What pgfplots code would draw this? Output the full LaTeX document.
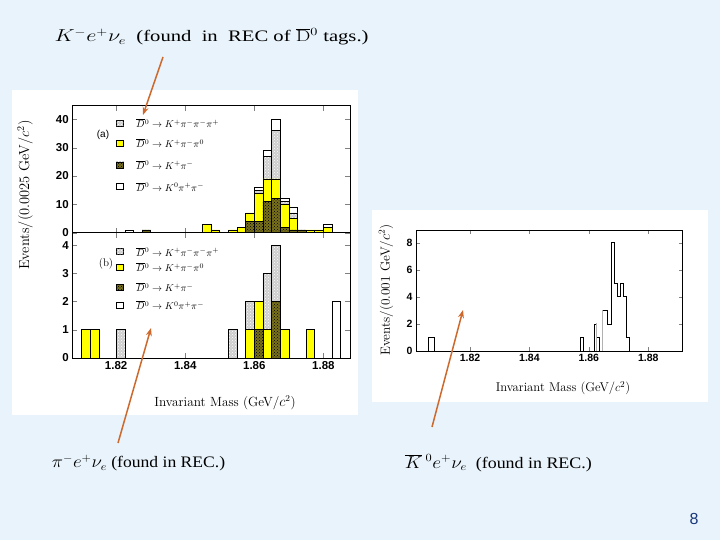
\documentclass[border=0pt]{standalone}
\usepackage{fontspec}
\setsansfont{Liberation Sans}
\newfontfamily\timesfont{Liberation Serif}
\usepackage{pgfplots}
\pgfplotsset{compat=1.18}
\usepackage{pgfplotstable}
\usetikzlibrary{patterns,arrows.meta}
\definecolor{slidebg}{RGB}{232,243,251}
\definecolor{arroworange}{RGB}{205,105,45}
\definecolor{histyellow}{RGB}{255,255,0}
\definecolor{darkolive}{RGB}{120,112,28}
\definecolor{lightgr}{RGB}{205,205,205}
\definecolor{pagenum}{RGB}{25,55,120}

% panel (a): K- e+ nu found in REC of D0bar tags
\pgfplotstableread{
x dark yellow grey white
1.82375 0 0 0 1
1.82875 1 0 0 0
1.84625 0 3 0 0
1.84875 0 1 0 0
1.85375 0 1 0 0
1.85625 0 2 0 0
1.85875 4 3 0 0
1.86125 4 10 1 1
1.86375 11 8 8 2
1.86625 12 7 17 4
1.86875 2 8 1 1
1.87125 1 4 2 2
1.87375 1 0 0 0
1.87625 0 1 0 0
1.87875 0 1 0 0
1.88125 0 2 0 1
}\tabA

% panel (b): pi- e+ nu
\pgfplotstableread{
x dark yellow grey white
1.81125 0 1 0 0
1.81375 0 1 0 0
1.82125 0 0 1 0
1.85375 0 0 1 0
1.85875 0 1 1 0
1.86125 1 1 0 0
1.86375 0 1 2 0
1.86625 2 0 2 0
1.86875 0 1 0 0
1.87625 0 1 0 0
1.88375 0 0 0 2
}\tabB

\tikzset{
  darkst/.style={fill=darkolive, draw=black, line width=0.6pt, postaction={pattern=crosshatch dots, pattern color=black}},
  yelst/.style={fill=histyellow, draw=black, line width=0.6pt},
  greyst/.style={fill=lightgr, draw=black, line width=0.6pt, postaction={pattern=crosshatch dots, pattern color=white}},
  whitest/.style={fill=white, draw=black, line width=0.6pt},
}
\pgfplotsset{
  histax/.style={
    scale only axis, width=277.7pt,
    xmin=1.8073, xmax=1.8877,
    xtick={1.82,1.84,1.86,1.88},
    tick align=inside, xtick pos=both, ytick pos=both,
    major tick length=5pt,
    axis line style={line width=0.8pt},
    ticklabel style={font=\sffamily\bfseries\fontsize{11.5}{12}\selectfont},
    ybar stacked, bar width=0.0025,
  },
}

\newcommand{\legsym}[3]{\draw[#1, line width=0.4pt] (#2-3.5,#3-3) rectangle (#2+3.5,#3+3);}

\begin{document}
\begin{tikzpicture}
\useasboundingbox (0pt,0pt) rectangle (720pt,540pt);
\begin{scope}[x=1pt,y=1pt]
\fill[slidebg] (0,0) rectangle (720,540);
\fill[white] (12,125) rectangle (358,450);
\fill[white] (372,138) rectangle (708,330);
\end{scope}

% ---- panel (a)
\begin{axis}[histax, at={(72.3pt,307.3pt)}, anchor=south west, height=127pt,
  ymin=0, ymax=44.8, ytick={0,10,20,30,40}, yticklabels={0,10,20,30,40},
  xticklabels={}]
\addplot[darkst] table[x=x,y=dark]{\tabA};
\addplot[yelst] table[x=x,y=yellow]{\tabA};
\addplot[greyst] table[x=x,y=grey]{\tabA};
\addplot[whitest] table[x=x,y=white]{\tabA};
\end{axis}

% ---- panel (b)
\begin{axis}[histax, at={(72.3pt,182pt)}, anchor=south west, height=125.3pt,
  ymin=0, ymax=4.44, ytick={0,1,2,3,4}, yticklabels={0,1,2,3,4},
  xticklabels={1.82,1.84,1.86,1.88}]
\addplot[darkst] table[x=x,y=dark]{\tabB};
\addplot[yelst] table[x=x,y=yellow]{\tabB};
\addplot[greyst] table[x=x,y=grey]{\tabB};
\addplot[whitest] table[x=x,y=white]{\tabB};
\end{axis}

% ---- right panel: K0bar e+ nu
\begin{axis}[scale only axis, at={(416pt,189pt)}, anchor=south west, width=266.7pt, height=121pt,
  xmin=1.8018, xmax=1.8916, ymin=0, ymax=8.94,
  xtick={1.82,1.84,1.86,1.88}, xticklabels={1.82,1.84,1.86,1.88},
  ytick={0,2,4,6,8}, yticklabels={0,2,4,6,8},
  tick align=inside, xtick pos=both, ytick pos=both, major tick length=4pt,
  axis line style={line width=0.8pt},
  ticklabel style={font=\sffamily\bfseries\fontsize{10.5}{12}\selectfont}]
\addplot[const plot, black, line width=0.9pt] coordinates {(1.8059,0)(1.8059,1)(1.8080,0)};
\addplot[const plot, black, line width=0.8pt] coordinates {(1.8571,0)(1.8571,1)(1.8580,0)};
\addplot[const plot, black, line width=0.8pt] coordinates {(1.8619,0)(1.8619,2)(1.8627,1)(1.8635,0)};
\addplot[const plot, gray!60, line width=1pt] coordinates {(1.8625,0)(1.8625,2)(1.8627,2)};
\addplot[const plot, gray!60, line width=1pt] coordinates {(1.8645,0)(1.8645,3)(1.8647,3)};
\addplot[const plot, black, line width=0.8pt] coordinates {(1.8647,3)(1.8664,2)(1.8677,8)(1.8687,5)(1.8697,4)(1.8706,5)(1.8715,4)(1.8725,1)(1.8737,0)};
\draw[line width=2pt] (rel axis cs:1,0) -- (rel axis cs:1,1);
\end{axis}

\begin{scope}[x=1pt,y=1pt]
% legends (a)
\node[font=\sffamily\fontsize{10}{12}\selectfont] at (103,405) {(a)};
\legsym{greyst}{120}{416.7}
\legsym{yelst}{120}{396.7}
\legsym{darkst}{120}{375}
\legsym{whitest}{120}{353.3}
\begin{scope}[every node/.style={anchor=west, font=\fontsize{10}{11}\selectfont, inner sep=0pt}]
\node at (136,416.7) {$\overline{D}{}^0\rightarrow K^+\pi^-\pi^-\pi^+$};
\node at (136,396.7) {$\overline{D}{}^0\rightarrow K^+\pi^-\pi^0$};
\node at (136,375) {$\overline{D}{}^0\rightarrow K^+\pi^-$};
\node at (136,353.3) {$\overline{D}{}^0\rightarrow K^0\pi^+\pi^-$};
\end{scope}
% legends (b)
\node[font=\fontsize{11}{12}\selectfont] at (106,276) {(b)};
\legsym{greyst}{120}{288.3}
\legsym{yelst}{120}{272.7}
\legsym{darkst}{120}{252.7}
\legsym{whitest}{120}{234.7}
\begin{scope}[every node/.style={anchor=west, font=\fontsize{10}{11}\selectfont, inner sep=0pt}]
\node at (136,288.3) {$\overline{D}{}^0\rightarrow K^+\pi^-\pi^-\pi^+$};
\node at (136,272.7) {$\overline{D}{}^0\rightarrow K^+\pi^-\pi^0$};
\node at (136,252.7) {$\overline{D}{}^0\rightarrow K^+\pi^-$};
\node at (136,234.7) {$\overline{D}{}^0\rightarrow K^0\pi^+\pi^-$};
\end{scope}

\node[rotate=90, font=\fontsize{14.5}{16}\selectfont] at (25,345) {Events/(0.0025 GeV/$c^2$)};
\node[font=\fontsize{13.3}{15}\selectfont] at (225,137) {Invariant Mass (GeV/$c^2$)};
\node[rotate=90, font=\fontsize{13.3}{15}\selectfont] at (386,250) {Events/(0.001 GeV/$c^2$)};
\node[font=\fontsize{12.7}{14}\selectfont] at (563,152) {Invariant Mass (GeV/$c^2$)};

% ---- slide texts
\node[anchor=west, xscale=1.29, font=\timesfont\fontsize{16}{18}\selectfont] at (50,503)
  {$K^-e^+\nu_e$~~(found~ in~ REC of $\overline{\mathrm{D}}{}^0$ tags.)};
\node[anchor=west, xscale=1.1, font=\timesfont\fontsize{16}{18}\selectfont] at (48,77)
  {$\pi^-e^+\nu_e$ (found in REC.)};
\node[anchor=west, xscale=1.12, font=\timesfont\fontsize{16}{18}\selectfont] at (401,77)
  {$\overline{K}\,{}^0e^+\nu_e$~ (found in REC.)};
\node[text=pagenum, font=\sffamily\fontsize{16}{18}\selectfont] at (694,21) {8};

% ---- arrows
\draw[arroworange, line width=1.5pt, -{Stealth[length=8pt,width=6pt]}] (163,483) -- (143,425);
\draw[arroworange, line width=1.5pt, -{Stealth[length=8pt,width=6pt]}] (118,97) -- (151,212);
\draw[arroworange, line width=1.5pt, -{Stealth[length=8pt,width=6pt]}] (432,113) -- (463,230);
\end{scope}
\end{tikzpicture}
\end{document}
